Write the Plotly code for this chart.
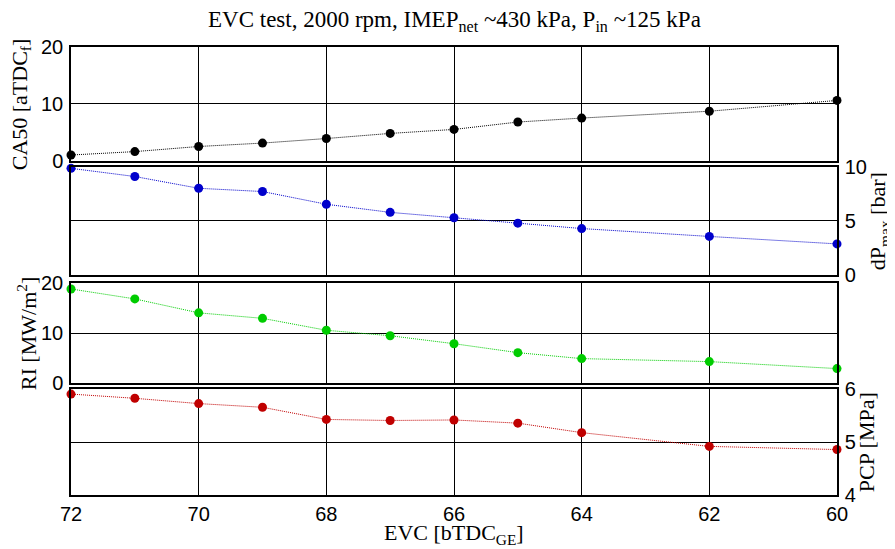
import plotly.graph_objects as go

# ---- data ----
evc = [72, 71, 70, 69, 68, 67, 66, 65, 64, 62, 60]
ca50 = [1.0, 1.6, 2.5, 3.1, 3.9, 4.8, 5.5, 6.8, 7.5, 8.7, 10.6]
dpmax = [9.88, 9.12, 8.03, 7.73, 6.55, 5.8, 5.3, 4.8, 4.3, 3.57, 2.88]
ri = [18.9, 16.9, 14.1, 13.0, 10.6, 9.5, 7.9, 6.1, 4.9, 4.3, 2.9]
pcp = [5.91, 5.83, 5.73, 5.66, 5.43, 5.41, 5.42, 5.36, 5.18, 4.92, 4.86]

x_ticks = [72, 70, 68, 66, 64, 62, 60]
ca50_ticks = [0, 10, 20]
dp_ticks = [0, 5, 10]
ri_ticks = [0, 10, 20]
pcp_ticks = [4, 5, 6]

title = "EVC test, 2000 rpm, IMEP<sub>net</sub> ~430 kPa, P<sub>in</sub> ~125 kPa"
xlabel = "EVC [bTDC<sub>GE</sub>]"
ylabels = ["CA50 [aTDC<sub>f</sub>]", "dP<sub>max</sub> [bar]", "RI [MW/m<sup>2</sup>]", "PCP [MPa]"]

series = [ca50, dpmax, ri, pcp]
colors = ["#000000", "#0000CC", "#00CC00", "#C00000"]
yranges = [[0, 20], [0, 10], [0, 20], [4, 6]]
yticks = [ca50_ticks, dp_ticks, ri_ticks, pcp_ticks]
sides = ["left", "right", "left", "right"]
domains = [[0.7462, 1.0], [0.4911, 0.7321], [0.25, 0.4721], [0.0, 0.2359]]
label_x = [-0.066, 1.055, -0.0576, 1.038]

SERIF = "Liberation Serif, Times New Roman, serif"
SANS = "Liberation Sans, Arial, sans-serif"

fig = go.Figure()
layout = dict(
    width=895, height=549,
    margin=dict(l=63, r=66, t=39, b=62),
    paper_bgcolor="white", plot_bgcolor="white",
    showlegend=False,
    font=dict(family=SANS, size=20, color="black"),
)

for i in range(4):
    n = "" if i == 0 else str(i + 1)
    fig.add_trace(go.Scatter(
        x=evc, y=series[i], mode="lines+markers",
        xaxis="x" + n, yaxis="y" + n,
        line=dict(color=colors[i], width=1, dash="1px,1px"),
        marker=dict(color=colors[i], size=9),
        cliponaxis=False,
    ))
    layout["xaxis" + n] = dict(
        range=[72, 60], tickvals=x_ticks, showgrid=True, gridcolor="black", gridwidth=1,
        showline=True, mirror=True, linecolor="black", linewidth=1.5,
        zeroline=False, anchor="y" + n, showticklabels=(i == 3), ticks="",
        tickfont=dict(family=SANS, size=20, color="black"),
        **({} if i == 0 else {"matches": "x"}),
    )
    layout["yaxis" + n] = dict(
        range=yranges[i], tickvals=yticks[i], showgrid=True, gridcolor="black", gridwidth=1,
        showline=True, mirror=True, linecolor="black", linewidth=1.5,
        zeroline=False, anchor="x" + n, side=sides[i], domain=domains[i], ticks="",
        ticklabelstandoff=2,
        tickfont=dict(family=SANS, size=20, color="black"),
    )

fig.update_layout(**layout)

annotations = [
    dict(text=title, x=0.5, y=1.0, xref="paper", yref="paper", yshift=26,
         showarrow=False, font=dict(family=SERIF, size=23, color="black"),
         xanchor="center", yanchor="middle"),
    dict(text=xlabel, x=0.5, y=0.0, xref="paper", yref="paper", yshift=-39,
         showarrow=False, font=dict(family=SERIF, size=22, color="black"),
         xanchor="center", yanchor="middle"),
]
for i in range(4):
    d = domains[i]
    annotations.append(dict(
        text=ylabels[i], x=label_x[i], y=(d[0] + d[1]) / 2, xref="paper", yref="paper",
        textangle=-90, showarrow=False, font=dict(family=SERIF, size=22, color="black"),
        xanchor="center", yanchor="middle",
    ))
fig.update_layout(annotations=annotations)

fig.write_html("out.html")
